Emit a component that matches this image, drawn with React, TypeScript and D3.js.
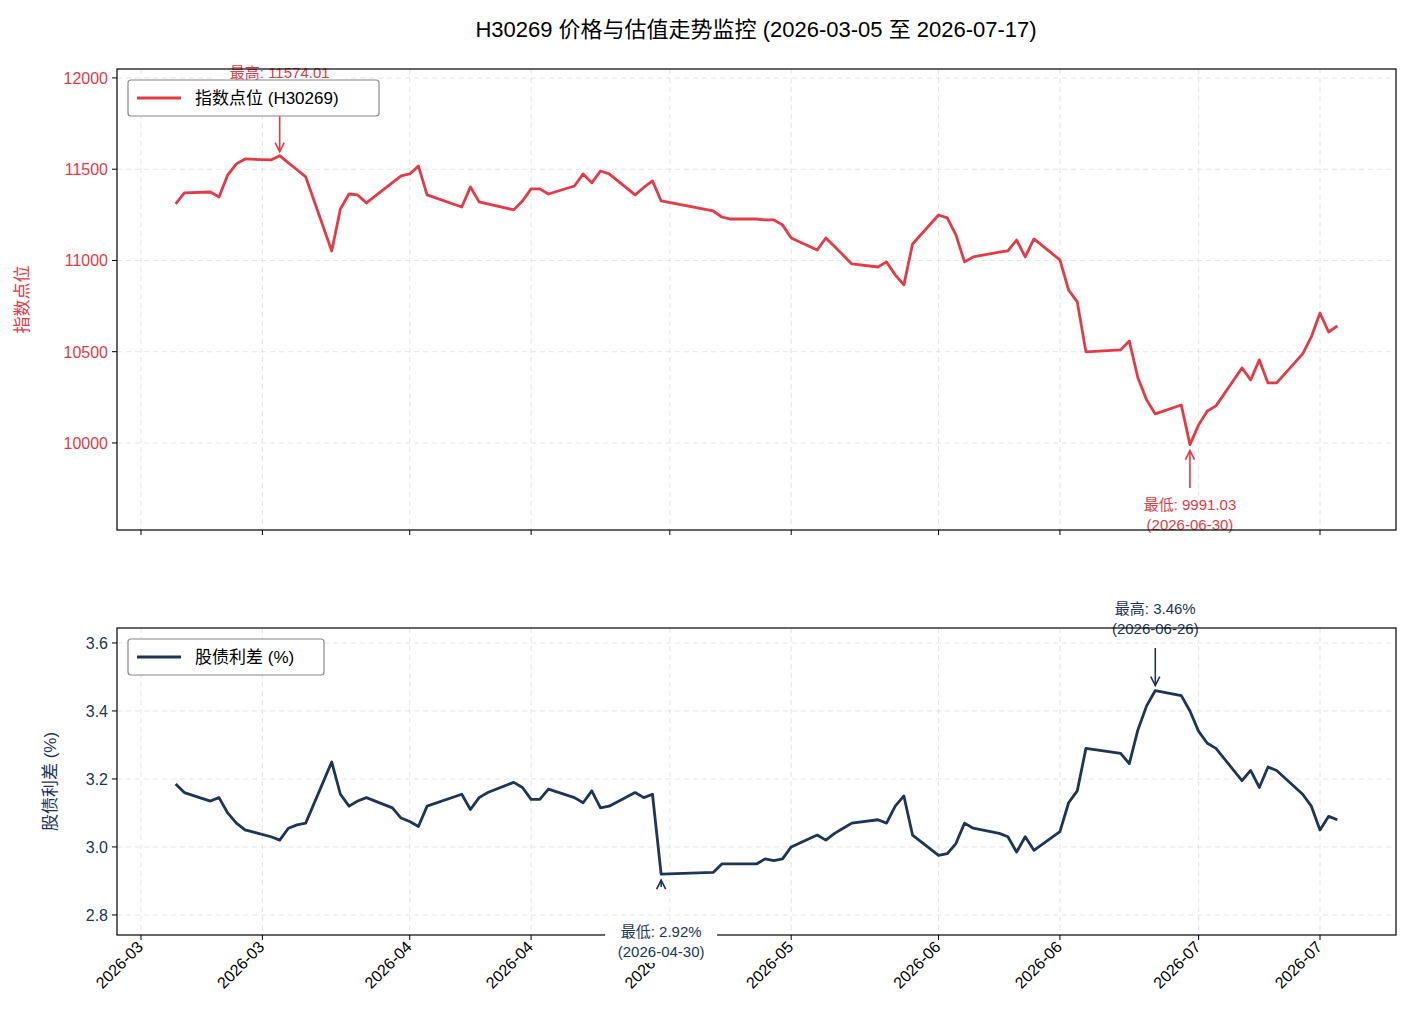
import React from "react";
import * as d3 from "d3";

const dates = ["03-05","03-06","03-09","03-10","03-11","03-12","03-13","03-16","03-17","03-18","03-19","03-20","03-23","03-24","03-25","03-26","03-27","03-30","03-31","04-01","04-02","04-03","04-07","04-08","04-09","04-10","04-13","04-14","04-15","04-16","04-17","04-20","04-21","04-22","04-23","04-24","04-27","04-28","04-29","04-30","05-06","05-07","05-08","05-11","05-12","05-13","05-14","05-15","05-18","05-19","05-20","05-21","05-22","05-25","05-26","05-27","05-28","05-29","06-01","06-02","06-03","06-04","06-05","06-08","06-09","06-10","06-11","06-12","06-15","06-16","06-17","06-18","06-22","06-23","06-24","06-25","06-26","06-29","06-30","07-01","07-02","07-03","07-06","07-07","07-08","07-09","07-10","07-13","07-14","07-15","07-16","07-17"];
const indexValues = [11310,11370,11375,11348,11468,11529,11556,11551,11574.01,11535,11497,11458,11052,11282,11364,11359,11315,11426,11463,11474,11518,11359,11293,11403,11321,11310,11277,11326,11392,11392,11364,11408,11474,11425,11490,11474,11359,11400,11436,11326,11271,11238,11227,11227,11222,11222,11195,11123,11057,11123,11076,11029,10981,10964,10992,10921,10866,11090,11249,11233,11140,10992,11019,11046,11052,11112,11019,11118,11003,10838,10773,10499,10510,10559,10356,10236,10159,10208,9991.03,10099,10175,10203,10411,10345,10455,10329,10329,10488,10581,10712,10608,10641];
const spreadValues = [3.185,3.16,3.135,3.145,3.10,3.07,3.05,3.03,3.02,3.055,3.065,3.07,3.25,3.155,3.12,3.135,3.145,3.115,3.085,3.075,3.06,3.12,3.155,3.11,3.145,3.16,3.19,3.175,3.14,3.14,3.17,3.145,3.13,3.165,3.115,3.12,3.16,3.145,3.155,2.92,2.925,2.95,2.95,2.95,2.965,2.96,2.965,3.0,3.035,3.02,3.04,3.055,3.07,3.08,3.07,3.12,3.15,3.035,2.975,2.98,3.01,3.07,3.055,3.04,3.03,2.985,3.03,2.99,3.045,3.13,3.165,3.29,3.275,3.245,3.345,3.415,3.46,3.445,3.40,3.34,3.305,3.29,3.195,3.225,3.175,3.235,3.225,3.155,3.12,3.05,3.09,3.08];
const tickDates = ["03-01","03-15","04-01","04-15","05-01","05-15","06-01","06-15","07-01","07-15"];
const indexTicks = [10000,10500,11000,11500,12000];
const spreadTicks = [2.8,3.0,3.2,3.4,3.6];

const RED = "#e63946";
const NAVY = "#1d3557";
const FONT = "Arial, 'Liberation Sans', 'Noto Sans CJK SC', sans-serif";
const toDate = (s: string) => new Date(Date.UTC(2026, +s.slice(0, 2) - 1, +s.slice(3)));

const L = 117, R = 1396;
const T1 = 69, B1 = 530, T2 = 628, B2 = 935;

export default function App() {
  const base = d3.scaleUtc().domain([toDate("03-01"), toDate("07-15")]).range([141, 1320]);
  const x = d3.scaleUtc().domain([base.invert(L), base.invert(R)]).range([L, R]);
  const y1 = d3.scaleLinear().domain([9523, 12049]).range([B1, T1]);
  const y2 = d3.scaleLinear().domain([2.741, 3.644]).range([B2, T2]);
  const pts = dates.map(toDate);
  const line1 = d3.line<number>().x((_, i) => x(pts[i])).y((v) => y1(v))(indexValues)!;
  const line2 = d3.line<number>().x((_, i) => x(pts[i])).y((v) => y2(v))(spreadValues)!;
  const ticks = tickDates.map(toDate);
  const fmt = d3.utcFormat("%Y-%m");

  const iMax = d3.maxIndex(indexValues), iMin = d3.minIndex(indexValues);
  const sMax = d3.maxIndex(spreadValues), sMin = d3.minIndex(spreadValues);

  const grid = (top: number, bottom: number, yTicks: number[], ys: (v: number) => number) => (
    <g stroke="#dddddd" strokeDasharray="5,4" strokeWidth={0.8}>
      {ticks.map((t, i) => <line key={"x" + i} x1={x(t)} x2={x(t)} y1={top} y2={bottom} />)}
      {yTicks.map((v, i) => <line key={"y" + i} x1={L} x2={R} y1={ys(v)} y2={ys(v)} />)}
    </g>
  );

  const label = (cx: number, ty: number, lines: string[], color: string, w: number) => (
    <g>
      <rect x={cx - w / 2} y={ty - 14} width={w} height={lines.length * 20} fill="white" />
      {lines.map((l, i) => (
        <text key={i} x={cx} y={ty + i * 20} textAnchor="middle" fontSize={15} fill={color}>{l}</text>
      ))}
    </g>
  );
  const arrow = (px: number, y0: number, yTip: number, color: string) => {
    const dir = yTip > y0 ? 1 : -1;
    return (
      <g stroke={color} strokeWidth={1.6} fill="none">
        <line x1={px} x2={px} y1={y0} y2={yTip} />
        <polyline points={`${px - 4.5},${yTip - dir * 9} ${px},${yTip} ${px + 4.5},${yTip - dir * 9}`} />
      </g>
    );
  };

  return (
    <svg width={1410} height={1033} style={{ position: "absolute", left: 0, top: 0, fontFamily: FONT }}>
      <rect width={1410} height={1033} fill="white" />
      <text x={756} y={37} textAnchor="middle" fontSize={22} fill="#000">H30269 价格与估值走势监控 (2026-03-05 至 2026-07-17)</text>

      {grid(T1, B1, indexTicks, y1)}
      <path d={line1} fill="none" stroke={RED} strokeWidth={2.8} strokeLinejoin="round" />
      {indexTicks.map((v) => (
        <g key={v}>
          <line x1={L - 5} x2={L} y1={y1(v)} y2={y1(v)} stroke="#000" />
          <text x={L - 9} y={y1(v) + 6} textAnchor="end" fontSize={16} fill={RED}>{v}</text>
        </g>
      ))}
      {ticks.map((t, i) => <line key={i} x1={x(t)} x2={x(t)} y1={B1} y2={B1 + 5} stroke="#000" />)}
      <text transform={`translate(28,${(T1 + B1) / 2}) rotate(-90)`} textAnchor="middle" fontSize={17} fill={RED}>指数点位</text>

      {arrow(x(pts[iMax]), 115, y1(indexValues[iMax]) - 4, RED)}
      {label(x(pts[iMax]), 78, ["最高: 11574.01", "(2026-03-17)"], RED, 132)}
      {arrow(x(pts[iMin]), 488, y1(indexValues[iMin]) + 6, RED)}
      {label(x(pts[iMin]), 510, ["最低: 9991.03", "(2026-06-30)"], RED, 116)}
      <rect x={L} y={T1} width={R - L} height={B1 - T1} fill="none" stroke="#000" strokeWidth={1.2} />

      <g>
        <rect x={128} y={80} width={251} height={36} rx={3} fill="white" stroke="#888" strokeWidth={1.2} />
        <line x1={137} x2={181} y1={98} y2={98} stroke={RED} strokeWidth={2.8} />
        <text x={195} y={104} fontSize={17} fill="#000">指数点位 (H30269)</text>
      </g>

      {grid(T2, B2, spreadTicks, y2)}
      <path d={line2} fill="none" stroke={NAVY} strokeWidth={2.8} strokeLinejoin="round" />
      {spreadTicks.map((v) => (
        <g key={v}>
          <line x1={L - 5} x2={L} y1={y2(v)} y2={y2(v)} stroke="#000" />
          <text x={L - 9} y={y2(v) + 6} textAnchor="end" fontSize={16} fill={NAVY}>{v.toFixed(1)}</text>
        </g>
      ))}
      <text transform={`translate(56,${(T2 + B2) / 2}) rotate(-90)`} textAnchor="middle" fontSize={17} fill={NAVY}>股债利差 (%)</text>

      {arrow(x(pts[sMax]), 648, y2(spreadValues[sMax]) - 5, NAVY)}
      {label(x(pts[sMax]), 614, ["最高: 3.46%", "(2026-06-26)"], NAVY, 114)}
      {arrow(x(pts[sMin]), 887, y2(spreadValues[sMin]) + 6, NAVY)}

      {ticks.map((t, i) => (
        <g key={i}>
          <line x1={x(t)} x2={x(t)} y1={B2} y2={B2 + 5} stroke="#000" />
          <text transform={`translate(${x(t) + 3},${B2 + 13}) rotate(-45)`} textAnchor="end" fontSize={16} fill="#000">{fmt(t)}</text>
        </g>
      ))}
      <rect x={L} y={T2} width={R - L} height={B2 - T2} fill="none" stroke="#000" strokeWidth={1.2} />
      {label(x(pts[sMin]), 937, ["最低: 2.92%", "(2026-04-30)"], NAVY, 112)}

      <g>
        <rect x={128} y={639} width={196} height={36} rx={3} fill="white" stroke="#888" strokeWidth={1.2} />
        <line x1={137} x2={181} y1={657} y2={657} stroke={NAVY} strokeWidth={2.8} />
        <text x={195} y={663} fontSize={17} fill="#000">股债利差 (%)</text>
      </g>
    </svg>
  );
}
